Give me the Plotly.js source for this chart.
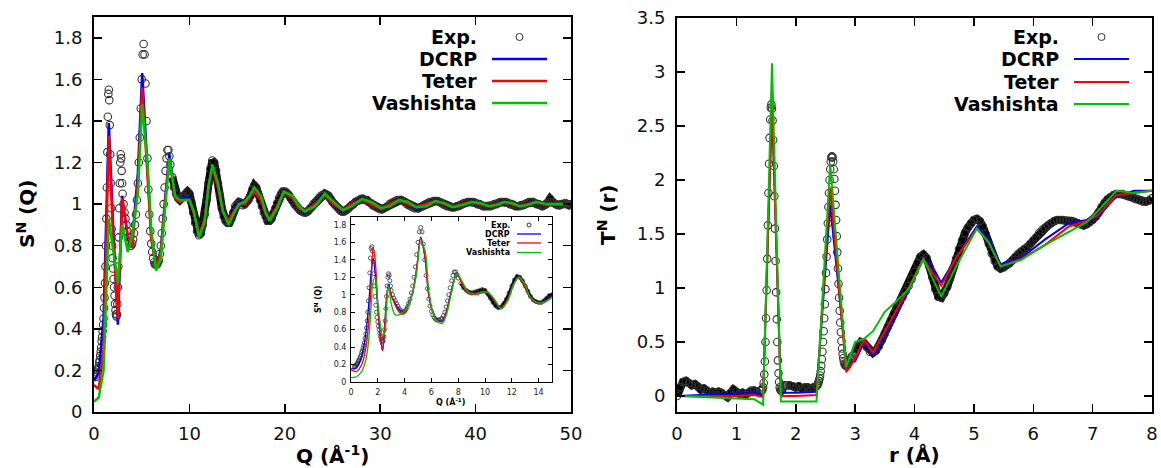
<!DOCTYPE html>
<html><head><meta charset="utf-8">
<script src="https://cdn.plot.ly/plotly-3.0.1.min.js"></script>
<style>body{margin:0;background:#fff}#c{width:1161px;height:468px}</style>
</head><body><div id="c"></div>
<script>
// ---------- S(Q) experimental (segments: start, step, values) ----------
const sqExpA_start = 0.25, sqExpA_step = 0.05;
const sqExpA = [0.17,0.18,0.19,0.20,0.21,0.22,0.24,0.25,0.27,0.29,
  0.31,0.34,0.36,0.39,0.42,0.45,0.50,0.55,0.62,0.70,
  0.80,0.93,1.08,1.25,1.42,1.53,1.55,1.50,1.38,1.24,
  1.10,0.98,0.88,0.80,0.74,0.69,0.64,0.60,0.56,0.52,
  0.49,0.47,0.46,0.47,0.52,0.60,0.70,0.84,0.98,1.10,
  1.20,1.24,1.22,1.16,1.10,1.05];
const sqExpB_start = 3.1, sqExpB_step = 0.1;
const sqExpB = [1.00,0.96,0.93,0.90,0.87,0.84,0.82,0.80,0.80,0.81,
  0.83,0.86,0.90,0.95,1.02,1.10,1.20,1.32,1.46,1.60,
  1.72,1.77,1.72,1.58,1.40,1.22,1.07,0.95,0.87,0.81,
  0.77,0.74,0.72,0.71,0.71,0.71,0.72,0.73,0.76,0.80,
  0.86,0.93,1.00,1.08,1.16,1.22,1.26,1.26,1.23,1.19];
const sqExpC_start = 8.2, sqExpC_step = 0.2;
const sqExpC = [1.13,1.08,1.05,1.03,1.02,1.03,1.04,1.05,1.06,1.05,
  1.01,0.96,0.91,0.87,0.85,0.86,0.90,0.95,1.02,1.10,
  1.17,1.21,1.20,1.16,1.10,1.04,0.98,0.94,0.92,0.91,
  0.91,0.93,0.96,0.99,1.00,1.01,1.005,0.995,1.00,1.01,
  1.02,1.04,1.07,1.09,1.08,1.05,1.02,0.99,0.96,0.94,
  0.92,0.92,0.93,0.955,0.98,1.005,1.03,1.05,1.06,1.06,
  1.055,1.045,1.03,1.015,1.00,0.99,0.98,0.97,0.965,0.96,
  0.96,0.965,0.975,0.985,1.00,1.01,1.02,1.03,1.04,1.045,
  1.05,1.045,1.04,1.025,1.01,1.00,0.99,0.98,0.97,0.965,
  0.965,0.97,0.975,0.985,0.995,1.00,1.01,1.015,1.02,1.025,
  1.025,1.02,1.02,1.01,1.005,0.995,0.99,0.985,0.98,0.975,
  0.975,0.98,0.985,0.99,1.00,1.005,1.01,1.015,1.02,1.02,
  1.02,1.015,1.01,1.00,0.995,0.99,0.985,0.98,0.98,0.98,
  0.985,0.99,0.995,1.00,1.005,1.01,1.01,1.015,1.015,1.015,
  1.01,1.005,1.00,0.995,0.99,0.99,0.985,0.985,0.985,0.99,
  0.99,0.995,1.00,1.005,1.005,1.01,1.01,1.01,1.01,1.005,
  1.00,1.00,0.995,0.99,0.99,0.99,0.99,0.99,0.995,1.00,
  1.00,1.005,1.01,1.01,1.01,1.01,1.005,1.00,1.00,0.995,
  0.99,0.99,0.99,0.995,0.995,1.00,1.005,1.01,1.01,1.01,
  1.005,1.00,1.00,0.995,0.99,0.995,1.00,1.01,1.025,1.01,
  1.005,1.00,0.995,0.995,1.00,1.00,1.005,1.00,0.995,1.00];

// ---------- S(Q) simulations, main panel ----------
const qSim = [0,0.5,1.0,1.55,2.0,2.5,2.95,3.55,4.0,4.6,
  5.05,5.6,6.0,6.5,7.0,7.5,7.9,8.5,9.0,9.5,
  10.0,10.5,11.0,11.6,12.0,12.4,13.0,13.5,14.1,14.6,
  15.2,15.8,16.3,16.8,17.5,18.0,18.4,19.2,19.9,20.8,
  21.5,22.1,23.2,24.2,25.1,26.1,27.0,28.1,29.1,30.1,
  31.0,32.0,32.9,33.8,34.8,35.8,36.7,37.6,38.6,39.6,
  40.5,41.4,42.2,43.0,43.8,44.6,45.4,46.3,47.5,50.0];
const sqDCRP = [0.15,0.19,0.45,1.39,0.90,0.42,1.04,0.83,0.82,1.15,
  1.63,1.15,0.85,0.70,0.78,1.05,1.24,1.04,1.02,1.03,
  1.03,0.95,0.84,0.93,1.10,1.18,1.08,0.96,0.91,0.96,
  1.01,1.00,1.04,1.07,1.02,0.95,0.93,0.99,1.06,1.03,
  0.98,0.96,1.00,1.05,1.00,0.965,1.00,1.025,1.00,0.975,
  0.995,1.02,1.00,0.98,0.995,1.015,1.00,0.985,0.995,1.01,
  1.005,0.99,0.995,1.01,1.00,0.99,1.00,1.01,0.995,1.00];
const sqTeter = [0.13,0.11,0.30,1.33,0.85,0.45,1.03,0.85,0.79,1.10,
  1.56,1.12,0.83,0.70,0.77,1.03,1.22,1.03,1.01,1.02,
  1.02,0.95,0.85,0.93,1.09,1.17,1.08,0.96,0.92,0.96,
  1.00,1.00,1.03,1.06,1.02,0.95,0.93,0.99,1.06,1.03,
  0.98,0.965,1.00,1.045,1.00,0.97,1.00,1.02,1.00,0.975,
  1.00,1.02,1.00,0.985,1.00,1.015,1.00,0.985,1.00,1.01,
  1.00,0.99,1.00,1.01,1.00,0.99,1.00,1.01,0.995,1.00];
const sqVash = [0.05,0.07,0.20,0.93,0.78,0.62,0.90,0.77,0.85,1.05,
  1.48,1.20,0.88,0.68,0.74,1.00,1.22,1.04,1.02,1.02,
  1.02,0.96,0.84,0.91,1.08,1.19,1.10,0.97,0.90,0.95,
  1.00,1.01,1.04,1.08,1.04,0.96,0.92,0.98,1.06,1.04,
  0.99,0.965,0.99,1.05,1.01,0.97,0.99,1.025,1.01,0.98,
  0.99,1.02,1.01,0.985,0.99,1.015,1.005,0.985,0.995,1.01,
  1.005,0.99,0.995,1.01,1.005,0.99,0.995,1.01,1.00,1.00];

// ---------- S(Q) simulations, inset ----------
const qIns = [0,0.4,0.8,1.1,1.3,1.5,1.65,1.8,2.0,2.2,
  2.35,2.5,2.65,2.8,3.0,3.3,3.6,3.9,4.2,4.6,
  4.9,5.2,5.5,5.8,6.1,6.4,6.8,7.1,7.5,7.9,
  8.3,8.7,9.2,9.8,10.2,10.7,11.2,11.7,12.1,12.5,
  12.9,13.4,13.9,14.4,15.0];
const insDCRP = [0.15,0.16,0.30,0.55,0.85,1.25,1.42,1.25,0.85,0.50,
  0.36,0.60,0.95,1.12,1.00,0.90,0.83,0.80,0.87,1.03,
  1.30,1.66,1.45,1.00,0.80,0.72,0.70,0.80,1.05,1.24,
  1.13,1.03,1.01,1.03,1.02,0.93,0.84,0.95,1.12,1.20,
  1.12,0.96,0.91,0.93,0.99];
const insTeter = [0.14,0.12,0.20,0.38,0.65,1.10,1.54,1.40,0.90,0.50,
  0.36,0.60,0.95,1.10,1.00,0.88,0.80,0.78,0.85,1.02,
  1.30,1.64,1.45,1.00,0.80,0.71,0.69,0.79,1.04,1.23,
  1.12,1.02,1.00,1.02,1.02,0.94,0.85,0.95,1.11,1.19,
  1.11,0.96,0.91,0.92,0.98];
const insVash = [0.05,0.06,0.12,0.25,0.45,0.85,1.15,1.20,0.90,0.65,
  0.53,0.55,0.85,1.10,0.90,0.77,0.77,0.80,0.86,1.02,
  1.25,1.60,1.52,1.05,0.80,0.70,0.67,0.76,1.02,1.24,
  1.15,1.04,1.01,1.03,1.03,0.95,0.84,0.93,1.10,1.20,
  1.14,0.97,0.91,0.91,0.97];

// ---------- T(r) experimental (segments) ----------
const trExp1_start = 0.0, trExp1_step = 0.05;
const trExp1 = [0.00,0.08,0.13,0.14,0.12,0.10,0.11,0.09,0.06,0.07,
  0.05,0.03,0.04,0.03,0.04,0.03,0.01,-0.01,0.03,0.06,
  0.04,0.02,0.03,0.01,0.03,0.05,0.05,0.04,0.05];
const trExp2_start = 1.42, trExp2_step = 0.01;
const trExp2 = [0.05,0.05,0.06,0.08,0.12,0.20,0.32,0.50,0.72,0.98,
  1.27,1.58,1.88,2.15,2.39,2.56,2.67,2.70,2.66,2.55,
  2.37,2.13,1.85,1.55,1.25,0.96,0.71,0.50,0.33,0.21,
  0.13,0.08,0.06,0.05,0.05,0.06,0.07,0.08,0.09,0.10];
const trExp3_start = 1.85, trExp3_step = 0.05;
const trExp3 = [0.10,0.10,0.09,0.08,0.09,0.07,0.08,0.08,0.07,0.08,0.09];
const trExp4_start = 2.36, trExp4_step = 0.01;
const trExp4 = [0.10,0.11,0.12,0.14,0.16,0.19,0.23,0.28,0.34,0.41,
  0.50,0.60,0.72,0.85,0.99,1.14,1.29,1.45,1.60,1.75,
  1.88,2.00,2.10,2.17,2.21,2.22,2.21,2.17,2.10,2.01,
  1.90,1.77,1.63,1.48,1.33,1.18,1.04,0.91,0.79,0.68,
  0.59,0.51,0.44,0.39,0.35,0.32,0.30,0.29,0.28,0.28,
  0.28,0.29,0.30,0.31,0.32,0.33,0.34,0.35,0.36,0.37];
const trExp5_start = 3.0, trExp5_step = 0.05;
const trExp5 = [0.40,0.46,0.50,0.49,0.45,0.41,0.40,0.42,0.46,0.52,
  0.58,0.64,0.70,0.76,0.82,0.87,0.92,0.97,1.02,1.08,
  1.15,1.23,1.29,1.31,1.28,1.20,1.10,0.99,0.92,0.91,
  0.95,1.01,1.09,1.18,1.27,1.36,1.44,1.51,1.56,1.60,
  1.63,1.64,1.62,1.57,1.50,1.41,1.32,1.25,1.20,1.18,
  1.19,1.21,1.23,1.26,1.29,1.32,1.34,1.36,1.38,1.41,
  1.44,1.47,1.51,1.54,1.56,1.58,1.60,1.62,1.63,1.63,
  1.63,1.62,1.62,1.62,1.61,1.60,1.59,1.58,1.59,1.61,
  1.63,1.66,1.70,1.75,1.79,1.82,1.84,1.86,1.87,1.87,
  1.87,1.86,1.85,1.84,1.83,1.82,1.81,1.80,1.80,1.81,1.83];

// ---------- T(r) simulations ----------
const rSim = [0,0.5,1.0,1.3,1.45,1.6,1.75,2.0,2.35,2.58,
  2.85,3.0,3.15,3.3,3.5,3.7,3.9,4.15,4.3,4.45,
  4.7,5.05,5.25,5.45,5.8,6.2,6.6,6.9,7.1,7.4,7.7,8.0];
const trDCRP = [0.0,0.01,0.02,0.03,0.0,2.70,0.03,0.03,0.04,1.77,
  0.30,0.32,0.50,0.38,0.55,0.75,0.98,1.27,1.20,1.05,
  1.28,1.57,1.45,1.22,1.28,1.45,1.60,1.63,1.66,1.85,1.90,1.90];
const trTeter = [0.0,0.0,0.0,0.01,-0.01,2.70,0.0,0.0,0.01,1.93,
  0.22,0.35,0.52,0.40,0.60,0.80,1.00,1.27,1.15,1.02,
  1.28,1.55,1.42,1.20,1.27,1.40,1.57,1.62,1.68,1.86,1.88,1.90];
const trVash = [0.0,-0.01,-0.02,-0.03,-0.08,3.08,-0.05,-0.05,-0.05,2.15,
  0.27,0.50,0.53,0.60,0.78,0.88,0.99,1.27,1.10,0.92,
  1.20,1.55,1.42,1.20,1.26,1.40,1.52,1.61,1.72,1.90,1.88,1.90];

const seriesNames = ['Exp.','DCRP','Teter','Vashishta'];
const seriesColors = ['#333333','#0000ff','#ff0000','#00c000'];

// ---------- build ----------
function grid(start, step, vals){ return vals.map((v,i)=>+(start+i*step).toFixed(4)); }
const qA = grid(sqExpA_start,sqExpA_step,sqExpA), qB = grid(sqExpB_start,sqExpB_step,sqExpB), qC = grid(sqExpC_start,sqExpC_step,sqExpC);
const qExp = [].concat(qA, qB, qC);
const sExp = [].concat(sqExpA, sqExpB, sqExpC);
const r1 = grid(trExp1_start,trExp1_step,trExp1), r2 = grid(trExp2_start,trExp2_step,trExp2),
      r3 = grid(trExp3_start,trExp3_step,trExp3), r4 = grid(trExp4_start,trExp4_step,trExp4),
      r5 = grid(trExp5_start,trExp5_step,trExp5);
const rExp = [].concat(r1, r2, r3, r4, r5);
const tExp = [].concat(trExp1, trExp2, trExp3, trExp4, trExp5);

const W = 1161, H = 468;
const px = x => x / W, py = y => 1 - y / H;
const FONT = 'DejaVu Sans, Verdana, sans-serif';

function expTrace(x, y, xa, ya, size, lw){
  return {x, y, xaxis: xa, yaxis: ya, type: 'scatter', mode: 'markers', name: seriesNames[0],
    marker: {symbol: 'circle-open', size: size, color: seriesColors[0], line: {width: lw, color: seriesColors[0]}},
    hoverinfo: 'skip'};
}
// dense experimental band (same data, drawn as a heavy stroke where the measured points merge)
function expBand(x, y, xa, ya, w){
  return {x, y, xaxis: xa, yaxis: ya, type: 'scatter', mode: 'lines', name: seriesNames[0],
    line: {color: '#000', width: w}, hoverinfo: 'skip'};
}
function simTrace(x, y, k, xa, ya, w, shape){
  return {x, y, xaxis: xa, yaxis: ya, type: 'scatter', mode: 'lines', name: seriesNames[k],
    line: {color: seriesColors[k], width: w, shape: shape || 'linear'}, hoverinfo: 'skip'};
}

const insMask = qExp.map(q => q <= 15.2);
const data = [
  expBand(qC, sqExpC, 'x', 'y', 8),
  expTrace(qExp, sExp, 'x', 'y', 7.5, 1.1),
  simTrace(qSim, sqDCRP, 1, 'x', 'y', 2.5),
  simTrace(qSim, sqTeter, 2, 'x', 'y', 2.5),
  simTrace(qSim, sqVash, 3, 'x', 'y', 2.5),
  expBand(r1, trExp1, 'x2', 'y2', 8),
  expBand(r3, trExp3, 'x2', 'y2', 8),
  expBand(r5, trExp5, 'x2', 'y2', 8),
  expTrace(rExp, tExp, 'x2', 'y2', 7.5, 1.1),
  simTrace(rSim, trDCRP, 1, 'x2', 'y2', 2),
  simTrace(rSim, trTeter, 2, 'x2', 'y2', 2),
  simTrace(rSim, trVash, 3, 'x2', 'y2', 2),
  expBand(qC.filter(q=>q<=15.2), sqExpC.filter((s,i)=>qC[i]<=15.2), 'x3', 'y3', 3),
  expTrace(qExp.filter((q,i)=>insMask[i]), sExp.filter((s,i)=>insMask[i]), 'x3', 'y3', 4, 0.8),
  simTrace(qIns, insDCRP, 1, 'x3', 'y3', 1.3, 'spline'),
  simTrace(qIns, insTeter, 2, 'x3', 'y3', 1.3, 'spline'),
  simTrace(qIns, insVash, 3, 'x3', 'y3', 1.3, 'spline')
];

function axBase(extra){
  return Object.assign({ticks: 'inside', mirror: 'ticks', showline: true, linecolor: '#000',
    showgrid: false, zeroline: false, tickcolor: '#000', fixedrange: true}, extra);
}

const layout = {
  width: W, height: H, margin: {l: 0, r: 0, t: 0, b: 0},
  paper_bgcolor: '#fff', plot_bgcolor: '#fff', showlegend: false,
  font: {family: FONT, color: '#000'},
  xaxis: axBase({domain: [px(94), px(571)], range: [0, 50], dtick: 10, tick0: 0, anchor: 'y',
    ticklen: 8, tickwidth: 1.5, linewidth: 2, tickfont: {size: 18, color: '#111'}, ticklabelstandoff: 4}),
  yaxis: axBase({domain: [py(412), py(17)], range: [0, 1.9], dtick: 0.2, tick0: 0, anchor: 'x',
    ticklen: 8, tickwidth: 1.5, linewidth: 2, tickfont: {size: 18, color: '#111'}, ticklabelstandoff: 6}),
  xaxis2: axBase({domain: [px(677), px(1152)], range: [0, 8], dtick: 1, tick0: 0, anchor: 'y2',
    ticklen: 8, tickwidth: 1.5, linewidth: 2, tickfont: {size: 18, color: '#111'}, ticklabelstandoff: 4}),
  yaxis2: axBase({domain: [py(412), py(18)], range: [-0.148, 3.5], dtick: 0.5, tick0: 0, anchor: 'x2',
    ticklen: 8, tickwidth: 1.5, linewidth: 2, tickfont: {size: 18, color: '#111'}, ticklabelstandoff: 6}),
  xaxis3: axBase({domain: [px(351), px(552)], range: [0, 15], dtick: 2, tick0: 0, anchor: 'y3',
    ticklen: 4, tickwidth: 1, linewidth: 1, tickfont: {size: 8, color: '#222'}, ticklabelstandoff: 2}),
  yaxis3: axBase({domain: [py(382), py(217)], range: [0, 1.89], dtick: 0.2, tick0: 0, anchor: 'x3',
    ticklen: 4, tickwidth: 1, linewidth: 1, tickfont: {size: 8, color: '#222'}, ticklabelstandoff: 2}),
  annotations: [],
  shapes: []
};

function ann(x, y, text, size, opts){
  layout.annotations.push(Object.assign({xref: 'paper', yref: 'paper', x: px(x), y: py(y), text: text,
    xanchor: 'center', yanchor: 'middle',
    showarrow: false, font: {family: FONT, size: size, color: '#000'}}, opts || {}));
}
// axis titles
ann(26, 214, '<b>S<sup>N</sup> (Q)</b>', 20, {textangle: -90});
ann(607, 215, '<b>T<sup>N</sup> (r)</b>', 20, {textangle: -90});
ann(332, 455, '<b>Q (Å<sup>-1</sup>)</b>', 20);
ann(914, 455, '<b>r (Å)</b>', 20);
ann(318, 300, '<b>S<sup>N</sup> (Q)</b>', 8, {textangle: -90});
ann(451, 402, '<b>Q (Å<sup>-1</sup>)</b>', 8);

// legends (text right-aligned, sample to the right)
function legend(textRight, lineX0, lineX1, rows, size, lw, r){
  seriesNames.forEach((name, k) => {
    ann(textRight, rows[k], '<b>' + name + '</b>', size, {xanchor: 'right'});
    if (k === 0) {
      const cx = (lineX0 + lineX1) / 2;
      layout.shapes.push({type: 'circle', xref: 'paper', yref: 'paper', xsizemode: 'pixel', ysizemode: 'pixel',
        xanchor: px(cx), yanchor: py(rows[k]), x0: -r, x1: r, y0: -r, y1: r,
        line: {color: seriesColors[0], width: 1}});
    } else {
      layout.shapes.push({type: 'line', xref: 'paper', yref: 'paper', x0: px(lineX0), x1: px(lineX1),
        y0: py(rows[k]), y1: py(rows[k]), line: {color: seriesColors[k], width: lw}});
    }
  });
}
legend(479, 492, 547, [37, 59, 81, 103], 19, 2.5, 3.5);
legend(1061, 1074, 1129, [37, 59, 82, 104], 19, 2.2, 3.5);
legend(512, 517, 541, [225, 234, 243, 252.5], 8, 1.3, 2);

Plotly.newPlot('c', data, layout, {staticPlot: true, displayModeBar: false});
</script>
</body></html>
